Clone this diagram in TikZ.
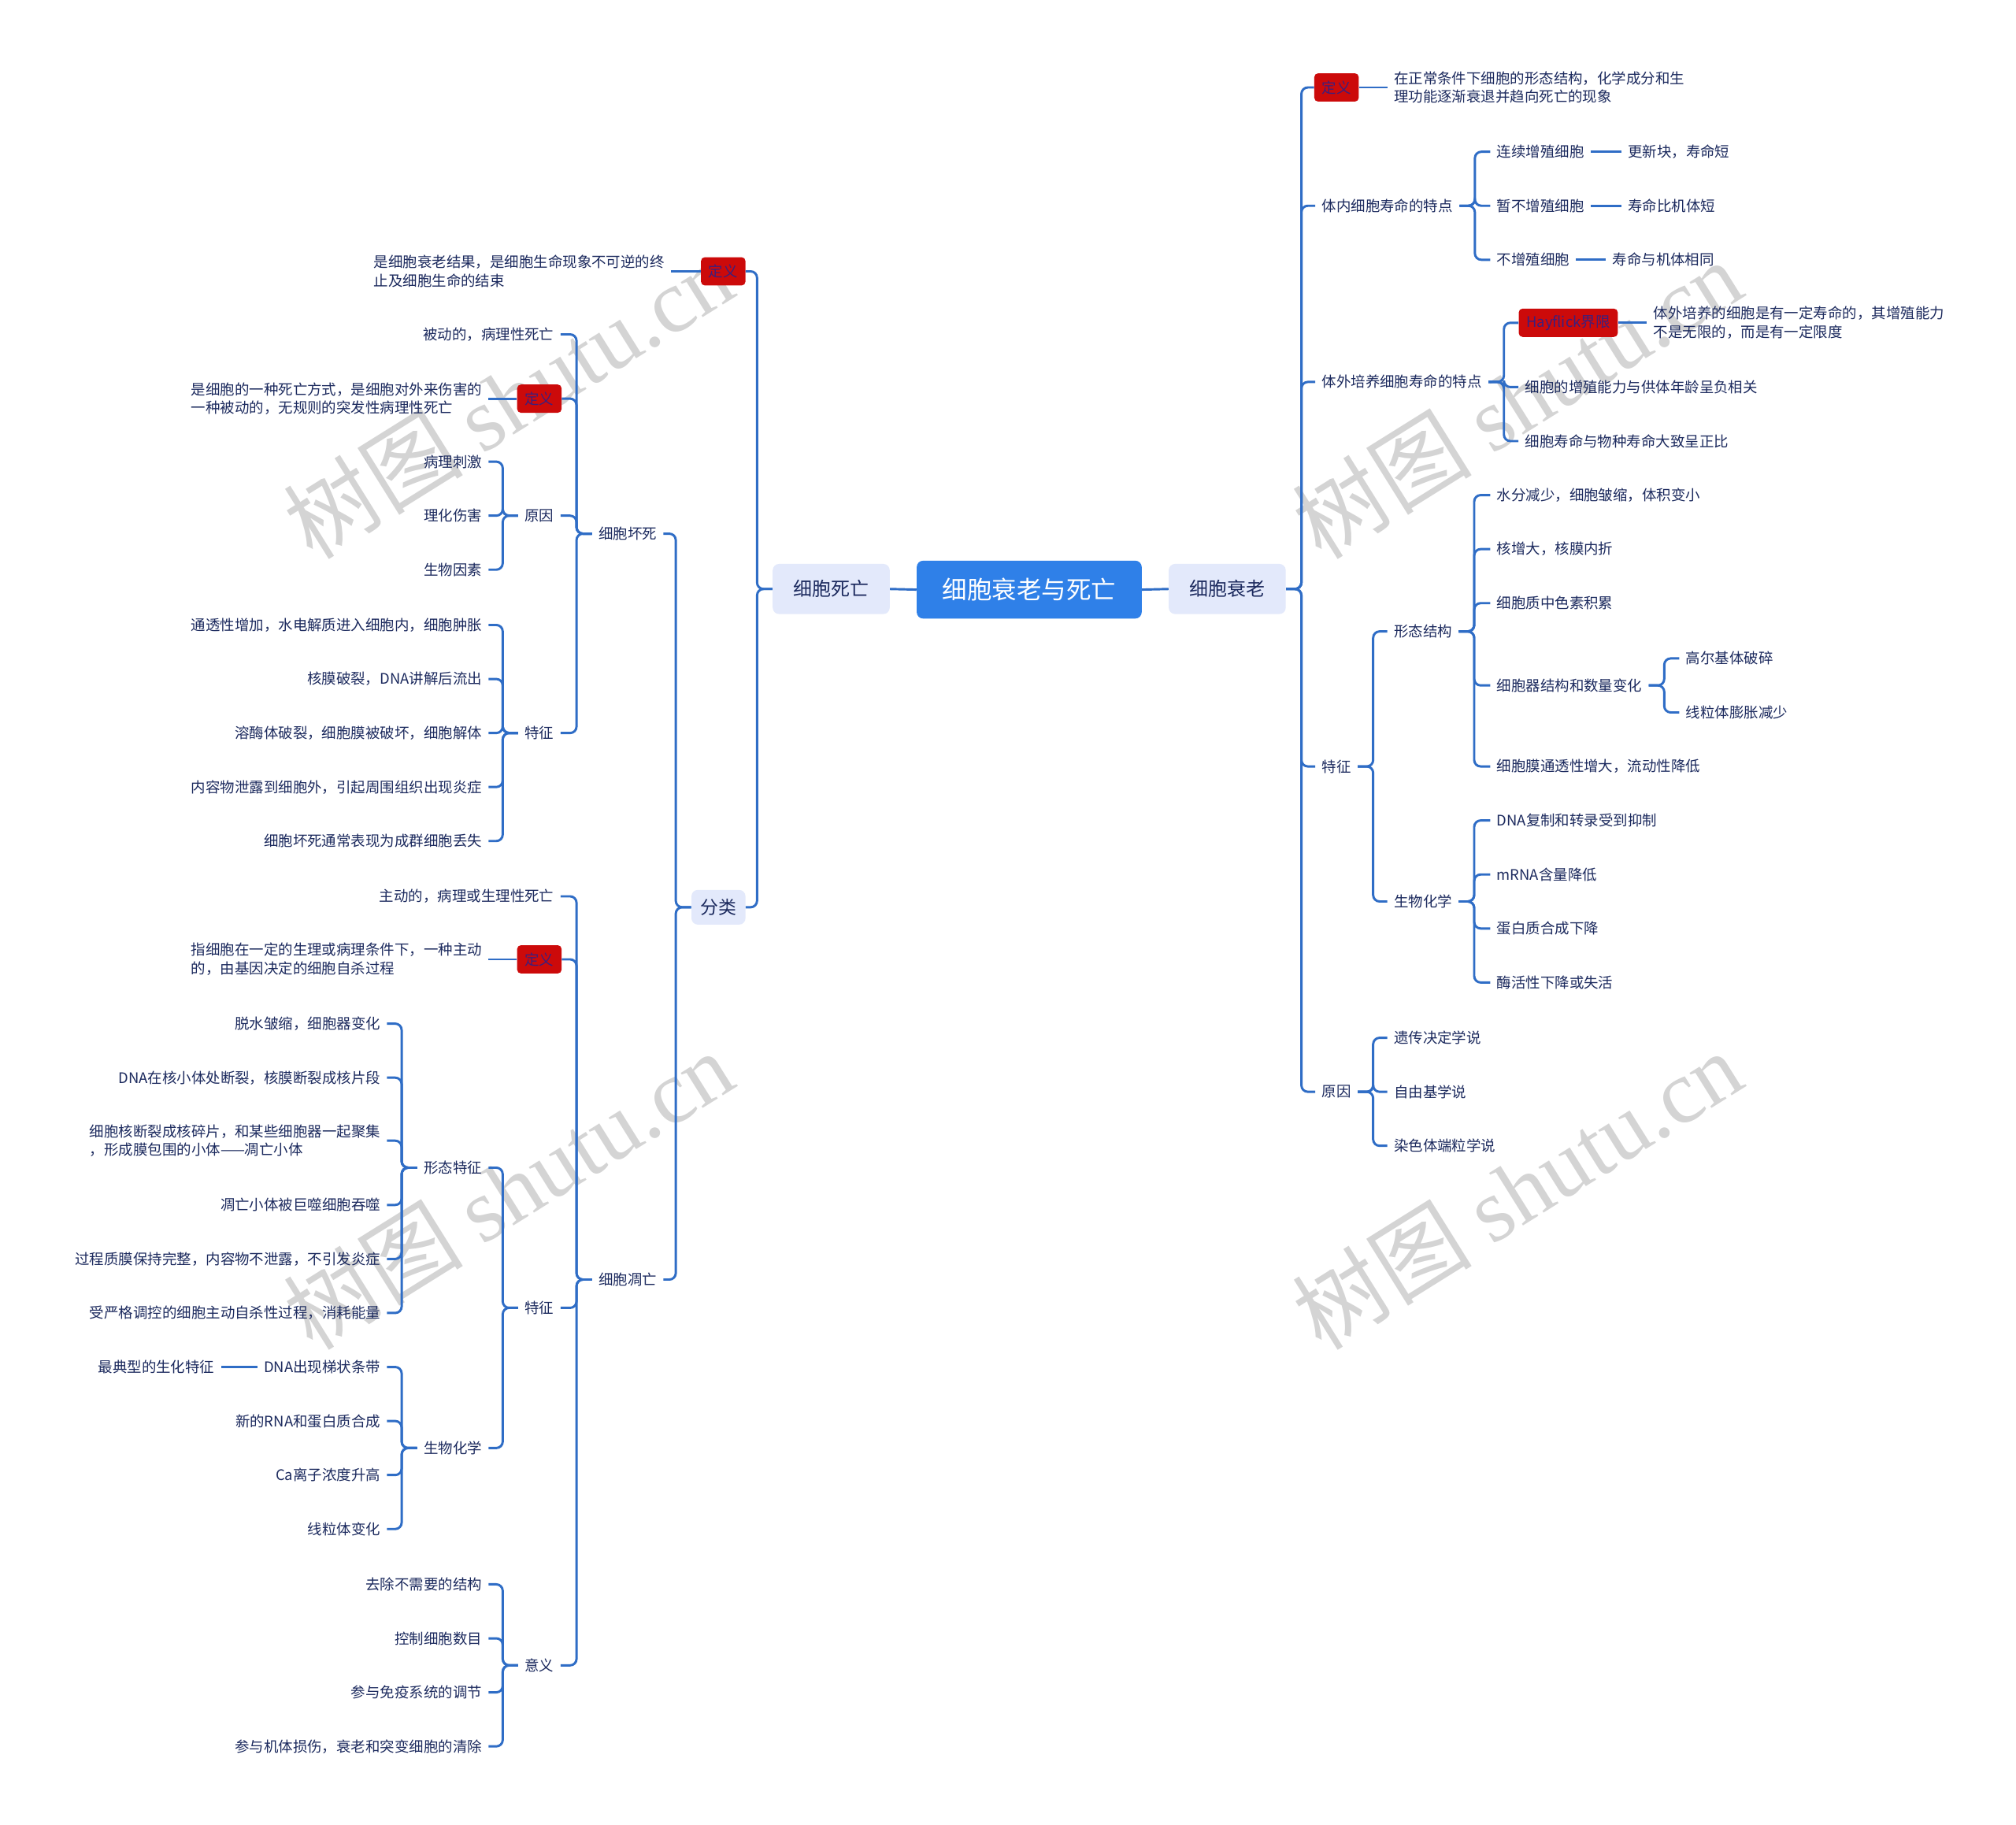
\documentclass[tikz,border=0pt]{standalone}
\usepackage{fontspec}
\setmainfont{Noto Sans CJK SC}
\newfontfamily\wmserif{Liberation Serif}
\definecolor{navy}{HTML}{1C2A5E}
\definecolor{lineblue}{HTML}{2F6DC6}
\definecolor{rootblue}{HTML}{2F80E8}
\definecolor{lav}{HTML}{E3E9FB}
\definecolor{redfill}{HTML}{CC0A0A}
\definecolor{redtext}{HTML}{3B1F7E}
\tikzset{
  conn/.style={draw=lineblue, line width=1.8pt, rounded corners=5pt},
  txt/.style={font=\fontsize{11.3}{14.5}\selectfont, text=navy, inner xsep=5pt, inner ysep=2pt, align=left},
  lnode/.style={txt, anchor=east},
  rnode/.style={txt, anchor=west},
  redbox/.style={fill=redfill, rounded corners=3pt, text=redtext, font=\fontsize{11.3}{13}\selectfont, inner xsep=6pt, inner ysep=0pt, minimum height=22pt},
  lvlbox/.style={fill=lav, rounded corners=5pt, text=navy, font=\fontsize{14.7}{16}\selectfont, minimum width=91pt, minimum height=39pt},
  catbox/.style={fill=lav, rounded corners=5pt, text=navy, font=\fontsize{14}{16}\selectfont, minimum width=42pt, minimum height=27pt, inner xsep=0pt},
  rootbox/.style={fill=rootblue, rounded corners=5pt, text=white, font=\fontsize{19.3}{22}\selectfont, minimum width=175pt, minimum height=45pt},
  wm/.style={text=black!17, rotate=32, font=\fontsize{70}{72}\selectfont}
}
\newcommand\lconn[2]{\draw[conn] (#1.west) -- ++(-12,0) |- (#2.east);}
\newcommand\rconn[2]{\draw[conn] (#1.east) -- ++(12,0) |- (#2.west);}
\newcommand\hconnL[2]{\draw[conn] (#1.west) -- (#2.east);}
\newcommand\hconnR[2]{\draw[conn] (#1.east) -- (#2.west);}
\begin{document}
\begin{tikzpicture}[x=1pt,y=-1pt]
\useasboundingbox (0,0) rectangle (1568,1419);
\fill[white] (0,0) rectangle (1568,1419);
% watermarks
\node[wm] (wm1) at (395,310) {树图 {\wmserif shutu.cn}};
\node[wm] (wm2) at (1180,310) {树图 {\wmserif shutu.cn}};
\node[wm] (wm3) at (395,925) {树图 {\wmserif shutu.cn}};
\node[wm] (wm4) at (1180,925) {树图 {\wmserif shutu.cn}};
% centre
\node[rootbox] (root) at (800.5,458.5) {细胞衰老与死亡};
\node[lvlbox] (death) at (646.5,458) {细胞死亡};
\node[lvlbox] (aging) at (954.5,458) {细胞衰老};
% left
\node[redbox, anchor=east] (dA) at (580,211) {定义};
\node[lnode] (dAt) at (522,211) {是细胞衰老结果，是细胞生命现象不可逆的终\\止及细胞生命的结束};
\node[catbox, anchor=east] (cls) at (580,705.5) {分类};
\node[lnode] (nec) at (516,415) {细胞坏死};
\node[lnode] (apo) at (516,995) {细胞凋亡};
\node[lnode] (n1) at (436,260) {被动的，病理性死亡};
\node[redbox, anchor=east] (dB) at (437,310) {定义};
\node[lnode] (dBt) at (380,310) {是细胞的一种死亡方式，是细胞对外来伤害的\\一种被动的，无规则的突发性病理性死亡};
\node[lnode] (ncause) at (436,401) {原因};
\node[lnode] (nfeat) at (436,570) {特征};
\node[lnode] (nc1) at (380,359) {病理刺激};
\node[lnode] (nc2) at (380,401) {理化伤害};
\node[lnode] (nc3) at (380,443) {生物因素};
\node[lnode] (nf1) at (380,486) {通透性增加，水电解质进入细胞内，细胞肿胀};
\node[lnode] (nf2) at (380,528) {核膜破裂，DNA讲解后流出};
\node[lnode] (nf3) at (380,570) {溶酶体破裂，细胞膜被破坏，细胞解体};
\node[lnode] (nf4) at (380,612) {内容物泄露到细胞外，引起周围组织出现炎症};
\node[lnode] (nf5) at (380,654) {细胞坏死通常表现为成群细胞丢失};
\node[lnode] (a1) at (436,697) {主动的，病理或生理性死亡};
\node[redbox, anchor=east] (dC) at (437,746) {定义};
\node[lnode] (dCt) at (380,746) {指细胞在一定的生理或病理条件下，一种主动\\的，由基因决定的细胞自杀过程};
\node[lnode] (afeat) at (436,1017) {特征};
\node[lnode] (asig) at (436,1295) {意义};
\node[lnode] (amor) at (380,908) {形态特征};
\node[lnode] (abio) at (380,1126) {生物化学};
\node[lnode] (am1) at (301,796) {脱水皱缩，细胞器变化};
\node[lnode] (am2) at (301,838) {DNA在核小体处断裂，核膜断裂成核片段};
\node[lnode] (am3) at (301,887) {细胞核断裂成核碎片，和某些细胞器一起聚集\\，形成膜包围的小体——凋亡小体};
\node[lnode] (am4) at (301,937) {凋亡小体被巨噬细胞吞噬};
\node[lnode] (am5) at (301,979) {过程质膜保持完整，内容物不泄露，不引发炎症};
\node[lnode] (am6) at (301,1021) {受严格调控的细胞主动自杀性过程，消耗能量};
\node[lnode] (ab1) at (301,1063) {DNA出现梯状条带};
\node[lnode] (ab1a) at (172,1063) {最典型的生化特征};
\node[lnode] (ab2) at (301,1105) {新的RNA和蛋白质合成};
\node[lnode] (ab3) at (301,1147) {Ca离子浓度升高};
\node[lnode] (ab4) at (301,1189) {线粒体变化};
\node[lnode] (as1) at (380,1232) {去除不需要的结构};
\node[lnode] (as2) at (380,1274) {控制细胞数目};
\node[lnode] (as3) at (380,1316) {参与免疫系统的调节};
\node[lnode] (as4) at (380,1358) {参与机体损伤，衰老和突变细胞的清除};
% right
\node[redbox, anchor=west] (dR) at (1022,68) {定义};
\node[rnode] (dRt) at (1079,68) {在正常条件下细胞的形态结构，化学成分和生\\理功能逐渐衰退并趋向死亡的现象};
\node[rnode] (inv) at (1023,160) {体内细胞寿命的特点};
\node[rnode] (inv1) at (1159,118) {连续增殖细胞};
\node[rnode] (inv1a) at (1261,118) {更新块，寿命短};
\node[rnode] (inv2) at (1159,160) {暂不增殖细胞};
\node[rnode] (inv2a) at (1261,160) {寿命比机体短};
\node[rnode] (inv3) at (1159,202) {不增殖细胞};
\node[rnode] (inv3a) at (1249,202) {寿命与机体相同};
\node[rnode] (vit) at (1023,297) {体外培养细胞寿命的特点};
\node[redbox, anchor=west] (hay) at (1181,251) {Hayflick界限};
\node[rnode] (hayt) at (1281,251) {体外培养的细胞是有一定寿命的，其增殖能力\\不是无限的，而是有一定限度};
\node[rnode] (vit2) at (1181,301) {细胞的增殖能力与供体年龄呈负相关};
\node[rnode] (vit3) at (1181,343) {细胞寿命与物种寿命大致呈正比};
\node[rnode] (rfeat) at (1023,596) {特征};
\node[rnode] (rmor) at (1079,491) {形态结构};
\node[rnode] (rm1) at (1159,385) {水分减少，细胞皱缩，体积变小};
\node[rnode] (rm2) at (1159,427) {核增大，核膜内折};
\node[rnode] (rm3) at (1159,469) {细胞质中色素积累};
\node[rnode] (rm4) at (1159,533) {细胞器结构和数量变化};
\node[rnode] (rm4a) at (1306,512) {高尔基体破碎};
\node[rnode] (rm4b) at (1306,554) {线粒体膨胀减少};
\node[rnode] (rm5) at (1159,596) {细胞膜通透性增大，流动性降低};
\node[rnode] (rbio) at (1079,701) {生物化学};
\node[rnode] (rb1) at (1159,638) {DNA复制和转录受到抑制};
\node[rnode] (rb2) at (1159,680) {mRNA含量降低};
\node[rnode] (rb3) at (1159,722) {蛋白质合成下降};
\node[rnode] (rb4) at (1159,764) {酶活性下降或失活};
\node[rnode] (rcause) at (1023,849) {原因};
\node[rnode] (rc1) at (1079,807) {遗传决定学说};
\node[rnode] (rc2) at (1079,849) {自由基学说};
\node[rnode] (rc3) at (1079,891) {染色体端粒学说};
% connectors
\draw[conn] (root.west) -- (death.east);
\draw[conn] (root.east) -- (aging.west);
\foreach \c in {dA,cls} {\lconn{death}{\c}}
\hconnL{dA}{dAt}
\foreach \c in {nec,apo} {\lconn{cls}{\c}}
\foreach \c in {n1,dB,ncause,nfeat} {\lconn{nec}{\c}}
\hconnL{dB}{dBt}
\foreach \c in {nc1,nc2,nc3} {\lconn{ncause}{\c}}
\foreach \c in {nf1,nf2,nf3,nf4,nf5} {\lconn{nfeat}{\c}}
\foreach \c in {a1,dC,afeat,asig} {\lconn{apo}{\c}}
\hconnL{dC}{dCt}
\foreach \c in {amor,abio} {\lconn{afeat}{\c}}
\foreach \c in {am1,am2,am3,am4,am5,am6} {\lconn{amor}{\c}}
\foreach \c in {ab1,ab2,ab3,ab4} {\lconn{abio}{\c}}
\hconnL{ab1}{ab1a}
\foreach \c in {as1,as2,as3,as4} {\lconn{asig}{\c}}
\foreach \c in {dR,inv,vit,rfeat,rcause} {\rconn{aging}{\c}}
\hconnR{dR}{dRt}
\foreach \c in {inv1,inv2,inv3} {\rconn{inv}{\c}}
\hconnR{inv1}{inv1a}
\hconnR{inv2}{inv2a}
\hconnR{inv3}{inv3a}
\foreach \c in {hay,vit2,vit3} {\rconn{vit}{\c}}
\hconnR{hay}{hayt}
\foreach \c in {rmor,rbio} {\rconn{rfeat}{\c}}
\foreach \c in {rm1,rm2,rm3,rm4,rm5} {\rconn{rmor}{\c}}
\foreach \c in {rm4a,rm4b} {\rconn{rm4}{\c}}
\foreach \c in {rb1,rb2,rb3,rb4} {\rconn{rbio}{\c}}
\foreach \c in {rc1,rc2,rc3} {\rconn{rcause}{\c}}
\end{tikzpicture}
\end{document}
